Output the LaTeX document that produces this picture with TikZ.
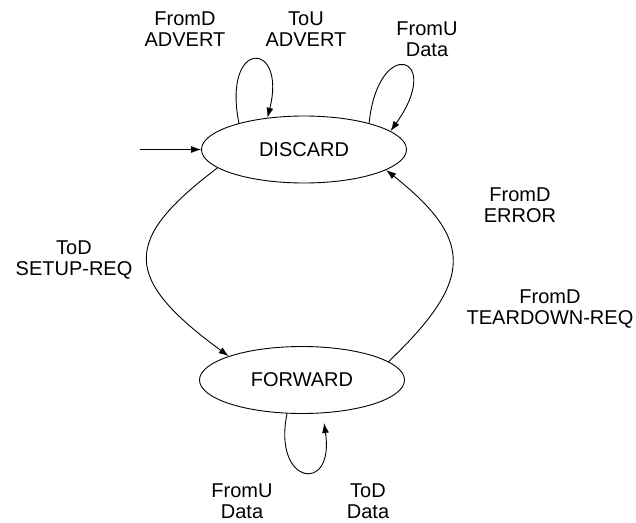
\documentclass[tikz,border=0pt]{standalone}
\usepackage{fontspec}
\setmainfont{Liberation Sans}
\usetikzlibrary{shapes.geometric,arrows.meta}
\begin{document}
\begin{tikzpicture}[x=1pt,y=-1pt,
  state/.style={draw, ellipse, line width=0.9pt, inner sep=0pt,
    minimum width=205pt, minimum height=67pt, font=\fontsize{20}{21.5}\selectfont},
  lbl/.style={align=center, inner sep=0pt, font=\fontsize{20}{21.5}\selectfont},
  edge/.style={line width=0.9pt, -{Latex[length=10pt,width=7pt]}}]
\useasboundingbox (0,0) rectangle (636,522);
\node[state] (D) at (304,149.5) {DISCARD};
\node[state] (F) at (302,380) {FORWARD};
\coordinate (init) at (140,149.5);
\coordinate (fl) at (324,423);

\node[lbl] (l1) at (185,29) {FromD\\ADVERT};
\node[lbl] (l2) at (306,29) {ToU\\ADVERT};
\node[lbl] (l3) at (427,39) {FromU\\Data};
\node[lbl] (l4) at (74,260) {ToD\\SETUP-REQ};
\node[lbl] (l5) at (520,205) {FromD\\ERROR};
\node[lbl] (l6) at (550,309) {FromD\\TEARDOWN-REQ};
\node[lbl] (l7) at (242,501) {FromU\\Data};
\node[lbl] (l8) at (368,501) {ToD\\Data};

\draw[edge] (init) -- (D.west);
\draw[edge] (D.158) .. controls (222,38) and (287,40) .. (D.139);
\draw[edge] (D.22) .. controls (378,35) and (445,55) .. (D.12);
\draw[edge] (D.192) .. controls (122,240) and (122,278) .. (F.162);
\draw[edge] (F.12) .. controls (474,280) and (474,240) .. (D.346);
\draw[edge] (F.246) .. controls (272,485) and (335,495) .. (fl);
\end{tikzpicture}
\end{document}
